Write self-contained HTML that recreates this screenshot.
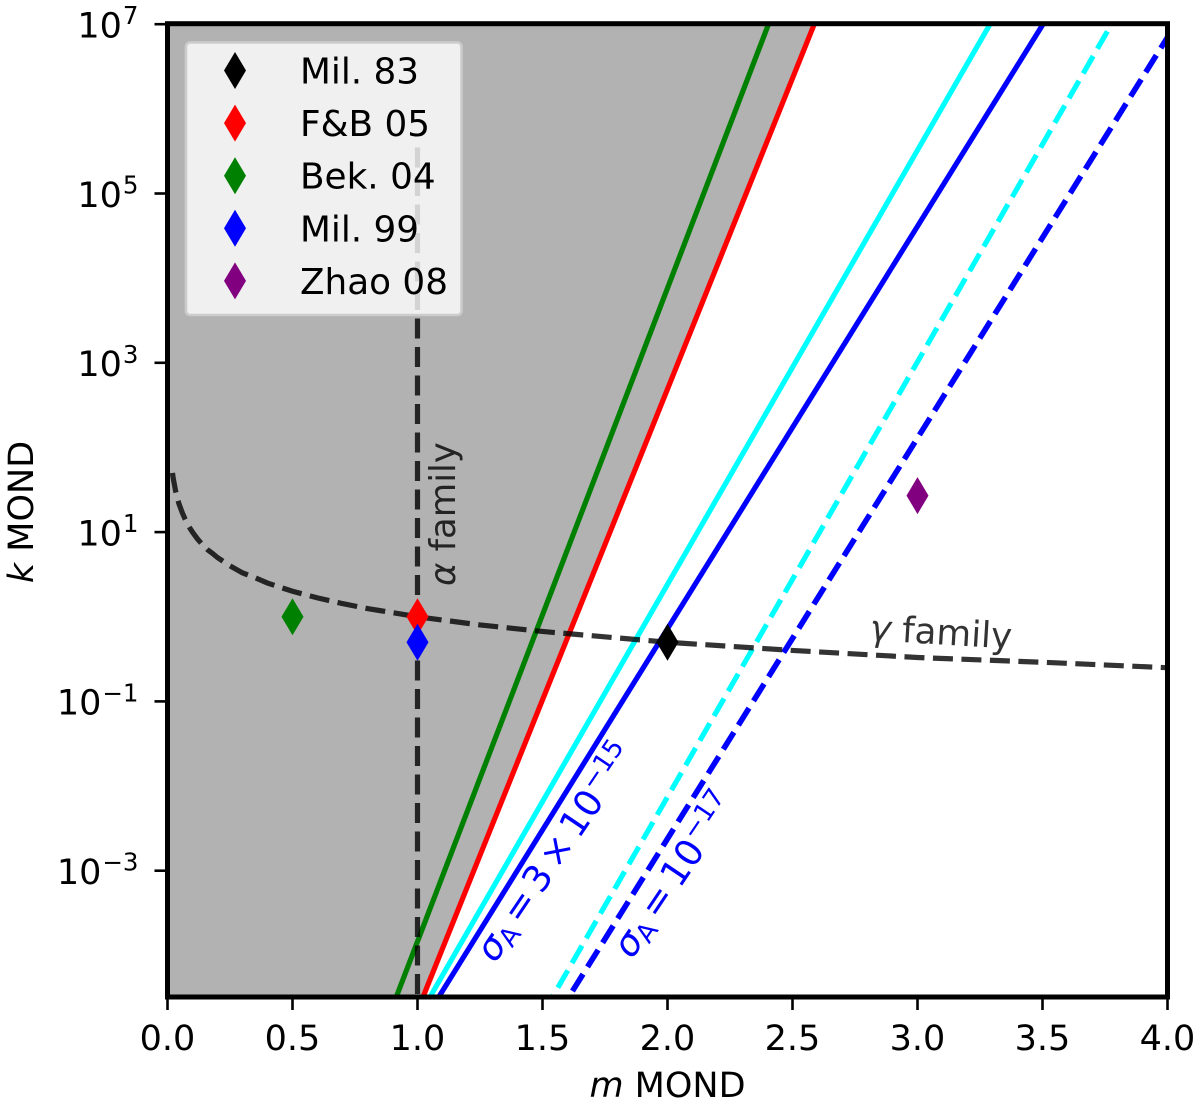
<!DOCTYPE html>
<html>
<head>
<meta charset="utf-8">
<title>k vs m MOND</title>
<style>
html,body{margin:0;padding:0;background:#fff;}
svg{display:block;}
text{font-family:"DejaVu Sans","Liberation Sans",sans-serif;}
</style>
</head>
<body>
<svg id="chart" xmlns="http://www.w3.org/2000/svg" width="1200" height="1106" viewBox="0 0 1200 1106">
<defs><clipPath id="plot-clip"><rect x="167.5" y="23.7" width="1000" height="973.3"/></clipPath></defs>
<g id="plot" clip-path="url(#plot-clip)"></g>
<g id="axes"></g>
<g id="legend"></g>
</svg>
<script>
const xTicks = [0, 0.5, 1, 1.5, 2, 2.5, 3, 3.5, 4];
const xTickLabels = ['0.0', '0.5', '1.0', '1.5', '2.0', '2.5', '3.0', '3.5', '4.0'];
const yTicks = [1e-3, 1e-1, 1e1, 1e3, 1e5, 1e7];
const yTickExponents = ['\u22123', '\u22121', '1', '3', '5', '7'];

const greenM = [0.915, 2.404];
const greenK = [3.22e-5, 1e7];
const redM = [1.022, 2.587];
const redK = [3.22e-5, 1e7];
const cyanM = [1.05, 3.29];
const cyanK = [3.22e-5, 1e7];
const blueM = [1.085, 3.502];
const blueK = [3.22e-5, 1e7];
const cyanDashM = [1.54, 3.776];
const cyanDashK = [3.22e-5, 1e7];
const blueDashM = [1.605, 4.0];
const blueDashK = [3.22e-5, 7e6];

const alphaM = [1, 1];
const alphaK = [3.5e5, 3.22e-5];

const gammaM = [0.02,0.022,0.025,0.028,0.032,0.036,0.04,0.045,0.05,0.06,0.07,0.08,0.09,0.1,0.12,0.14,0.16,0.18,0.2,0.25,0.3,0.35,0.4,0.5,0.6,0.7,0.8,1,1.25,1.5,2,2.5,3,3.5,4];
const gammaK = [50,45,40,36,31,28,25,22,20,16.7,14.3,12.5,11.1,10,8.3,7.1,6.2,5.6,5,4,3.3,2.9,2.5,2,1.67,1.43,1.25,1,0.8,0.67,0.5,0.4,0.33,0.29,0.25];

const pointNames = ['Mil. 83', 'F&B 05', 'Bek. 04', 'Mil. 99', 'Zhao 08'];
const pointColors = ['#000000', '#ff0000', '#008000', '#0000ff', '#800080'];
const pointM = [2, 1, 0.5, 1, 3];
const pointK = [0.5, 1, 1, 0.5, 27];

const NS = 'http://www.w3.org/2000/svg';
const plot = document.getElementById('plot');
const axes = document.getElementById('axes');
const legend = document.getElementById('legend');

function xScale(m) { return 167.5 + 250 * m; }
function yScale(k) { return 24.2 + (7 - Math.log10(k)) * 84.65; }
function make(tag, parent, attrs) {
  const node = document.createElementNS(NS, tag);
  for (const key in attrs) node.setAttribute(key, attrs[key]);
  parent.appendChild(node);
  return node;
}
function pathOf(ms, ks) {
  return ms.map((m, i) => (i ? 'L' : 'M') + xScale(m).toFixed(2) + ' ' + yScale(ks[i]).toFixed(2)).join(' ');
}
function diamond(cx, cy) {
  return 'M' + cx + ' ' + (cy - 18.5) + ' L' + (cx + 11) + ' ' + cy + ' L' + cx + ' ' + (cy + 18.5) + ' L' + (cx - 11) + ' ' + cy + ' Z';
}
function addSup(textEl, base, sup, size) {
  const a = make('tspan', textEl, {});
  a.textContent = base;
  const b = make('tspan', textEl, {'font-size': size, dy: -13.3, dx: 1});
  b.textContent = sup;
}

let el;

el = make('path', plot, {d: 'M167.5 23.7 L' + xScale(redM[1]) + ' 23.7 L' + xScale(redM[0]) + ' ' + yScale(redK[0]) + ' L167.5 ' + yScale(redK[0]) + ' Z', fill: '#b2b2b2'});



el = make('path', plot, {d: pathOf(greenM, greenK), fill: 'none', stroke: '#008000', 'stroke-width': 5.2});



el = make('path', plot, {d: pathOf(redM, redK), fill: 'none', stroke: '#ff0000', 'stroke-width': 5.2});



el = make('path', plot, {d: pathOf(cyanM, cyanK), fill: 'none', stroke: '#00ffff', 'stroke-width': 5.2});



el = make('path', plot, {d: pathOf(blueM, blueK), fill: 'none', stroke: '#0000ff', 'stroke-width': 5.2});



el = make('path', plot, {d: pathOf(cyanDashM, cyanDashK), fill: 'none', stroke: '#00ffff', 'stroke-width': 5.2, 'stroke-dasharray': '20 8.5', 'stroke-dashoffset': 17.8});



el = make('path', plot, {d: pathOf(blueDashM, blueDashK), fill: 'none', stroke: '#0000ff', 'stroke-width': 5.6, 'stroke-dasharray': '20 8.5', 'stroke-dashoffset': 21.5});



el = make('path', plot, {d: pathOf(alphaM, alphaK), fill: 'none', stroke: '#000', 'stroke-opacity': 0.8, 'stroke-width': 5.2, 'stroke-dasharray': '20 8.5'});



el = make('path', plot, {d: pathOf(gammaM, gammaK), fill: 'none', stroke: '#000', 'stroke-opacity': 0.8, 'stroke-width': 5.2, 'stroke-dasharray': '20 8.5'});



pointM.forEach(function (m, i) {
  const mark = make('path', plot, {d: diamond(xScale(m), yScale(pointK[i])), fill: pointColors[i]});
  
  
});

/* annotations */
el = make('text', axes, {x: 0, y: 0, transform: 'translate(455 586) rotate(-90)', 'font-size': 35.4, fill: '#000', 'fill-opacity': 0.8});


el.innerHTML = '<tspan font-style="italic">\u03b1</tspan> family';

el = make('text', axes, {x: 0, y: 0, transform: 'translate(869 640) rotate(3.5)', 'font-size': 35.7, fill: '#000', 'fill-opacity': 0.8});


el.innerHTML = '<tspan font-style="italic">\u03b3</tspan> family';

el = make('text', axes, {x: 0, y: 0, transform: 'translate(495 964) rotate(-56)', 'font-size': 37, fill: '#0000ff'});


el.innerHTML = '<tspan font-style="italic">\u03c3</tspan><tspan font-size="26" dy="5.5" dx="-1">A</tspan><tspan dy="-5.5" dx="6">=</tspan><tspan dx="6">3</tspan><tspan dx="6">\u00d7</tspan><tspan dx="6">10</tspan><tspan font-size="26" dy="-14" dx="1">\u221215</tspan>';

el = make('text', axes, {x: 0, y: 0, transform: 'translate(632 960) rotate(-56)', 'font-size': 37, fill: '#0000ff'});


el.innerHTML = '<tspan font-style="italic">\u03c3</tspan><tspan font-size="26" dy="5.5" dx="-1">A</tspan><tspan dy="-5.5" dx="7">=</tspan><tspan dx="7">10</tspan><tspan font-size="26" dy="-14" dx="1">\u221217</tspan>';

/* ticks */
xTicks.forEach(function (t, i) {
  const tick = make('line', axes, {x1: xScale(t), x2: xScale(t), y1: 997, y2: 1010, stroke: '#000', 'stroke-width': 2.6});
  
  
  const label = make('text', axes, {x: xScale(t), y: 1050, 'text-anchor': 'middle', 'font-size': 35, fill: '#000'});
  
  
  label.textContent = xTickLabels[i];
});
yTicks.forEach(function (t, i) {
  const tick = make('line', axes, {x1: 154.5, x2: 167.5, y1: yScale(t), y2: yScale(t), stroke: '#000', 'stroke-width': 2.6});
  
  
  const label = make('text', axes, {x: 138.5, y: yScale(t) + 13.3, 'text-anchor': 'end', 'font-size': 35, fill: '#000'});
  
  
  addSup(label, '10', yTickExponents[i], 24.5);
});

/* spines */
el = make('rect', axes, {x: 167.5, y: 23.7, width: 1000, height: 973.3, fill: 'none', stroke: '#000', 'stroke-width': 5});



/* axis titles */
el = make('text', axes, {x: 667.5, y: 1097, 'text-anchor': 'middle', 'font-size': 35, fill: '#000'});


el.innerHTML = '<tspan font-style="italic">m</tspan> MOND';

el = make('text', axes, {x: 0, y: 0, transform: 'translate(33 512) rotate(-90)', 'text-anchor': 'middle', 'font-size': 35, fill: '#000'});


el.innerHTML = '<tspan font-style="italic">k</tspan> MOND';

/* legend */
el = make('rect', legend, {x: 186, y: 42.5, width: 275.5, height: 272.5, rx: 4, ry: 4, fill: '#fff', 'fill-opacity': 0.8, stroke: '#ccc', 'stroke-width': 2.6});



pointNames.forEach(function (name, i) {
  const rowY = 70.5 + i * 52.6;
  const mark = make('path', legend, {d: diamond(235, rowY), fill: pointColors[i]});
  
  
  const label = make('text', legend, {x: 300, y: rowY + 13, 'font-size': 35.8, fill: '#000'});
  
  
  label.textContent = name;
});
</script>
</body>
</html>
